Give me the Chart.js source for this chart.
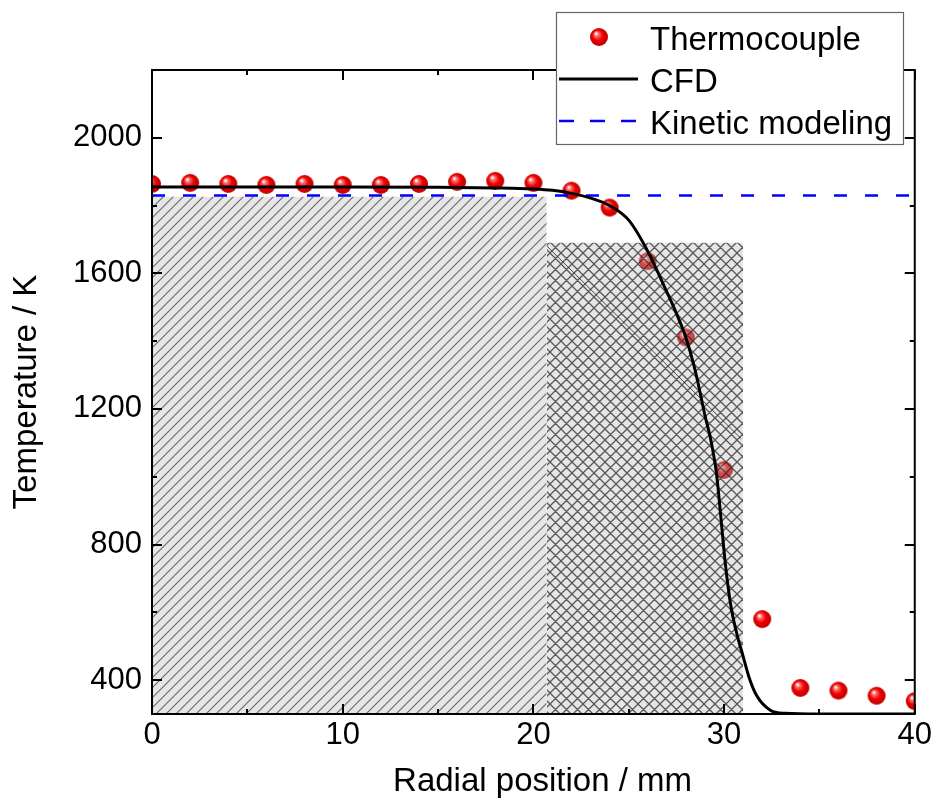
<!DOCTYPE html>
<html>
<head>
<meta charset="utf-8">
<script src="https://cdn.jsdelivr.net/npm/chart.js@4.4.1/dist/chart.umd.min.js"></script>
<style>
  html, body { margin: 0; padding: 0; background: #fff; }
  #wrap { width: 938px; height: 801px; position: relative; }
</style>
</head>
<body>
<div id="wrap"><canvas id="chart"></canvas></div>
<script>
// Data
const radialPos = [0, 2, 4, 6, 8, 10, 12, 14, 16, 18, 20, 22, 24, 26, 28, 30, 32, 34, 36, 38, 40];
const thermocoupleT = [1864, 1867, 1864, 1861, 1864, 1861, 1861, 1864, 1870, 1873, 1867, 1844, 1794, 1636, 1411, 1020, 580, 377, 369, 354, 338];

const cfdX = [0, 5, 10, 15, 18, 20, 21, 22, 23, 24, 25, 26, 27, 27.5, 28, 28.5, 29, 29.3, 29.6, 29.8, 30, 30.2, 30.4, 30.7, 31, 31.3, 31.7, 32.4, 33.2, 35, 40];
const cfdT = [1855, 1855, 1855, 1854, 1852, 1849, 1845, 1836, 1822, 1800, 1757, 1665, 1545, 1482, 1410, 1310, 1180, 1110, 1010, 900, 780, 680, 605, 530, 470, 410, 355, 312, 302, 300, 300];

const kineticX = [0, 40];
const kineticT = [1830, 1830];

// shaded zones
const flameZoneX = [0, 20.7];
const flameZoneT = [1826, 1826];
const reactionZoneX = [20.7, 31];
const reactionZoneT = [1690, 1690];
const streakX = [20.7, 30.9];
const streakT = [1681, 1112];

const xTicks = [0, 10, 20, 30, 40];
const xMinor = [5, 15, 25, 35];
const yTicks = [400, 800, 1200, 1600, 2000];
const yMinor = [600, 1000, 1400, 1800];

const FONT = "'Liberation Sans', Arial, sans-serif";

const pts = (xs, ys) => xs.map((x, i) => ({ x: x, y: ys[i] }));

// hatch pattern tiles
function makeHatch(size, cross, lineColor, bg, lw) {
    const c = document.createElement('canvas');
    c.width = c.height = size;
    const g = c.getContext('2d');
    g.fillStyle = bg;
    g.fillRect(0, 0, size, size);
    g.strokeStyle = lineColor;
    g.lineWidth = lw;
    g.beginPath();
    g.moveTo(-1, size + 1); g.lineTo(size + 1, -1);
    g.moveTo(-1, 1); g.lineTo(1, -1);
    g.moveTo(size - 1, size + 1); g.lineTo(size + 1, size - 1);
    if (cross) {
        g.moveTo(-1, -1); g.lineTo(size + 1, size + 1);
        g.moveTo(size - 1, -1); g.lineTo(size + 1, 1);
        g.moveTo(-1, size - 1); g.lineTo(1, size + 1);
    }
    g.stroke();
    return g.createPattern(c, 'repeat');
}
const diagHatch = makeHatch(10, false, 'rgba(70,70,70,0.75)', 'rgba(190,190,190,0.38)', 1.2);
const crossHatch = makeHatch(11, true, 'rgba(40,40,40,0.75)', 'rgba(190,190,190,0.38)', 1.3);

// red shaded ball marker
const ball = document.createElement('canvas');
ball.width = ball.height = 20;
(function () {
    const b = ball.getContext('2d');
    const grad = b.createRadialGradient(7, 6.5, 0.5, 10, 10, 10);
    grad.addColorStop(0, '#ffffff');
    grad.addColorStop(0.18, '#ff7070');
    grad.addColorStop(0.5, '#f00000');
    grad.addColorStop(1, '#b00000');
    b.fillStyle = grad;
    b.beginPath();
    b.arc(10, 10, 9, 0, Math.PI * 2);
    b.fill();
})();

// frame + inward ticks on all sides, then the legend box
const framePlugin = {
    id: 'frame',
    afterDatasetsDraw(chart) {
        const { ctx, chartArea: a, scales: { x, y } } = chart;
        ctx.save();
        ctx.strokeStyle = '#000';
        ctx.lineWidth = 2;
        ctx.beginPath();
        const tick = (v, len, horiz) => {
            if (horiz) {
                const px = Math.round(x.getPixelForValue(v));
                ctx.moveTo(px, a.bottom); ctx.lineTo(px, a.bottom - len);
                ctx.moveTo(px, a.top); ctx.lineTo(px, a.top + len);
            } else {
                const py = Math.round(y.getPixelForValue(v));
                ctx.moveTo(a.left, py); ctx.lineTo(a.left + len, py);
                ctx.moveTo(a.right, py); ctx.lineTo(a.right - len, py);
            }
        };
        xTicks.forEach(v => tick(v, 10, true));
        xMinor.forEach(v => tick(v, 5, true));
        yTicks.forEach(v => tick(v, 10, false));
        yMinor.forEach(v => tick(v, 5, false));
        ctx.stroke();
        ctx.strokeRect(a.left, a.top, a.right - a.left, a.bottom - a.top);
        ctx.restore();
    },
    afterDraw(chart) {
        const ctx = chart.ctx;
        ctx.save();
        ctx.fillStyle = '#fff';
        ctx.fillRect(556, 12, 347, 132);
        ctx.strokeStyle = '#666';
        ctx.lineWidth = 1.2;
        ctx.strokeRect(556.5, 12.5, 347, 132);

        ctx.drawImage(ball, 599 - 10, 37 - 10);

        ctx.strokeStyle = '#000';
        ctx.lineWidth = 3;
        ctx.beginPath(); ctx.moveTo(559, 79); ctx.lineTo(638, 79); ctx.stroke();

        ctx.strokeStyle = '#0000ff';
        ctx.lineWidth = 2.5;
        ctx.setLineDash([15, 16]);
        ctx.beginPath(); ctx.moveTo(559, 121); ctx.lineTo(640, 121); ctx.stroke();
        ctx.setLineDash([]);

        ctx.fillStyle = '#000';
        ctx.font = '33px ' + FONT;
        ctx.textBaseline = 'alphabetic';
        ctx.fillText('Thermocouple', 650, 50);
        ctx.fillText('CFD', 650, 92);
        ctx.fillText('Kinetic modeling', 650, 134);
        ctx.restore();
    }
};

new Chart(document.getElementById('chart'), {
    type: 'scatter',
    data: {
        datasets: [
            {
                label: 'Thermocouple',
                data: pts(radialPos, thermocoupleT),
                pointStyle: ball,
                pointRadius: 10,
                showLine: false,
                order: 5
            },
            {
                label: 'CFD',
                data: pts(cfdX, cfdT),
                showLine: true,
                borderColor: '#000',
                borderWidth: 3,
                pointRadius: 0,
                cubicInterpolationMode: 'monotone',
                order: 1
            },
            {
                label: 'Kinetic modeling',
                data: pts(kineticX, kineticT),
                showLine: true,
                borderColor: '#0000ff',
                borderWidth: 2.5,
                borderDash: [13, 18],
                pointRadius: 0,
                order: 2
            },
            {
                label: 'flame zone',
                data: pts(flameZoneX, flameZoneT),
                showLine: true,
                borderWidth: 0,
                pointRadius: 0,
                fill: 'start',
                backgroundColor: diagHatch,
                order: 6
            },
            {
                label: 'reaction zone',
                data: pts(reactionZoneX, reactionZoneT),
                showLine: true,
                borderWidth: 0,
                pointRadius: 0,
                fill: 'start',
                backgroundColor: crossHatch,
                order: 4
            },
            {
                label: 'streak',
                data: pts(streakX, streakT),
                showLine: true,
                borderColor: 'rgba(30,30,30,0.8)',
                borderWidth: 1,
                pointRadius: 0,
                order: 3
            }
        ]
    },
    options: {
        responsive: true,
        maintainAspectRatio: false,
        animation: false,
        events: [],
        layout: { padding: { top: 70, right: 22, bottom: 0, left: 0 } },
        plugins: {
            legend: { display: false },
            tooltip: { enabled: false }
        },
        scales: {
            x: {
                type: 'linear',
                min: 0,
                max: 40,
                afterBuildTicks: s => { s.ticks = xTicks.map(v => ({ value: v })); },
                afterFit: s => { s.height = 87; },
                grid: { display: false, drawTicks: false },
                border: { display: false },
                ticks: {
                    autoSkip: false,
                    maxRotation: 0,
                    padding: 6,
                    color: '#000',
                    font: { family: FONT, size: 31, lineHeight: 1 },
                    callback: v => String(v)
                },
                title: {
                    display: true,
                    text: '  Radial position / mm',
                    color: '#000',
                    font: { family: FONT, size: 33, lineHeight: 1 },
                    padding: { top: 0, bottom: 3 }
                }
            },
            y: {
                type: 'linear',
                min: 300,
                max: 2200,
                afterBuildTicks: s => { s.ticks = yTicks.map(v => ({ value: v })); },
                afterFit: s => { s.width = 152; },
                grid: { display: false, drawTicks: false },
                border: { display: false },
                ticks: {
                    autoSkip: false,
                    padding: 10,
                    color: '#000',
                    font: { family: FONT, size: 31, lineHeight: 1 },
                    callback: v => String(v)
                },
                title: {
                    display: true,
                    text: 'Temperature / K',
                    color: '#000',
                    font: { family: FONT, size: 33, lineHeight: 1 },
                    padding: { top: 10, bottom: 0 }
                }
            }
        }
    },
    plugins: [framePlugin]
});
</script>
</body>
</html>
